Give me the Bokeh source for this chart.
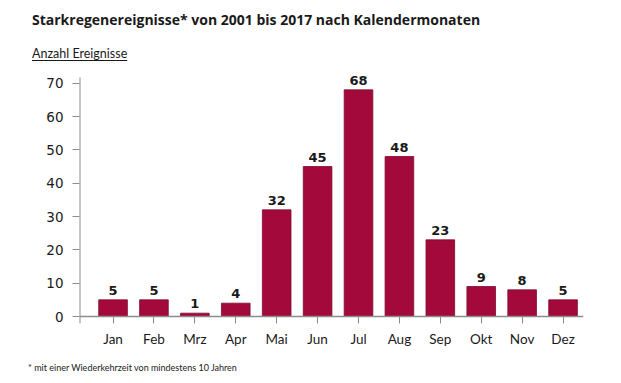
from bokeh.plotting import figure
from bokeh.layouts import column
from bokeh.models import Range1d, Span, FixedTicker, ColumnDataSource, Div
from bokeh.core.properties import value
from bokeh.embed import file_html
from bokeh.resources import INLINE

months = ["Jan", "Feb", "Mrz", "Apr", "Mai", "Jun", "Jul", "Aug", "Sep", "Okt", "Nov", "Dez"]
events = [5, 5, 1, 4, 32, 45, 68, 48, 23, 9, 8, 5]
y_ticks = [0, 10, 20, 30, 40, 50, 60, 70]

title_text = "Starkregenereignisse* von 2001 bis 2017 nach Kalendermonaten"
ylabel_text = "Anzahl Ereignisse"
foot_text = "* mit einer Wiederkehrzeit von mindestens 10 Jahren"

BAR = "#a3093b"
AXIS = "#8c8c8c"
TXT = "#1a1a1a"
W = 613

# header
head_html = (
    f'<div style="margin:0;padding:10px 0 0 32px;width:{W-32}px;">'
    f'<div style="font-family:\'Open Sans\';font-weight:bold;font-size:14px;line-height:20px;'
    f'color:{TXT};white-space:nowrap;">{title_text}</div>'
    f'<div style="margin-top:14px;font-family:Lato;font-size:12.5px;line-height:20px;'
    f'color:{TXT};white-space:nowrap;text-decoration:underline;text-underline-offset:2px;'
    f'text-decoration-thickness:1px;">{ylabel_text}</div>'
    f'</div>'
)
head = Div(text=head_html, width=W, height=70, margin=0)

# main chart
idx = list(range(len(months)))
src = ColumnDataSource(dict(x=idx, y=events, lab=[str(v) for v in events]))

Y0, Y1, YT = -2.1, 71.7, 73.8
X0, X1 = -0.82, 11.5
p = figure(width=W, height=282, output_backend="svg", toolbar_location=None,
           x_range=Range1d(X0, X1), y_range=Range1d(Y0, YT),
           min_border_left=79, min_border_right=30, min_border_top=0, min_border_bottom=29)
p.outline_line_color = None
p.grid.visible = False

p.vbar(x="x", top="y", width=0.7, source=src, fill_color=BAR, line_color="#7d0a2e", line_width=0.8)
p.text(x="x", y="y", text="lab", source=src, y_offset=-5,
       text_align="center", text_baseline="bottom", text_font=value("DejaVu Sans"),
       text_font_style="bold", text_font_size="13px", text_color=TXT)

p.add_layout(Span(location=0, dimension="width", line_color=AXIS, line_width=1.5))
p.segment(x0=[X0], y0=[Y0], x1=[X0], y1=[Y1], line_color=AXIS, line_width=2)

xa = p.xaxis[0]
xa.ticker = FixedTicker(ticks=idx)
xa.major_label_overrides = {i: m for i, m in zip(idx, months)}
xa.axis_line_color = None
xa.major_tick_in = 7
xa.major_tick_out = 0
xa.major_tick_line_color = AXIS
xa.minor_tick_line_color = None
xa.major_label_text_font = "Lato"
xa.major_label_text_font_size = "13.5px"
xa.major_label_text_color = TXT
xa.major_label_standoff = 7

ya = p.yaxis[0]
ya.ticker = FixedTicker(ticks=y_ticks)
ya.axis_line_color = None
ya.major_tick_in = 0
ya.major_tick_out = 7
ya.major_tick_line_color = AXIS
ya.minor_tick_line_color = None
ya.major_label_text_font = "DejaVu Sans"
ya.major_label_text_font_size = "13.5px"
ya.major_label_text_color = TXT
ya.major_label_standoff = 9

# footer
foot_html = (
    f'<div style="margin:0;padding:10px 0 0 28px;font-family:Lato;font-size:9px;'
    f'line-height:12px;color:{TXT};white-space:nowrap;">{foot_text}</div>'
)
foot = Div(text=foot_html, width=W, height=23, margin=0)

layout = column(head, p, foot, spacing=0)
open("out.html", "w").write(file_html(layout, INLINE))
